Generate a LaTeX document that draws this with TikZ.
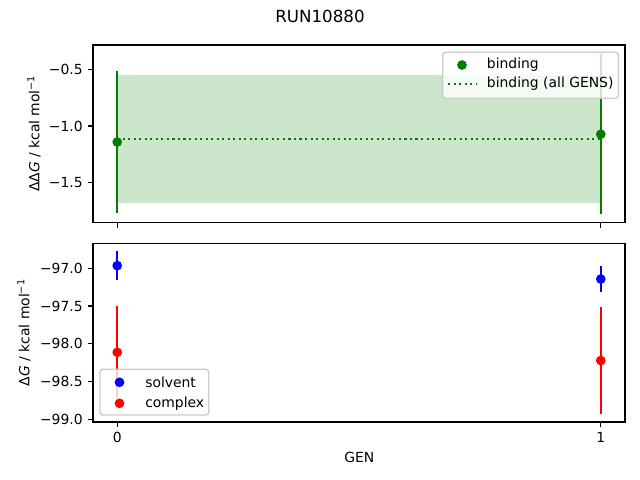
\documentclass[tikz,border=0pt]{standalone}
\usepackage{fontspec}
\setmainfont{DejaVu Sans}
\usetikzlibrary{positioning}
\definecolor{mplgreen}{rgb}{0,0.502,0}
\definecolor{legedge}{gray}{0.8}
\tikzset{axbox/.style={draw, line width=0.8bp}}
\tikzset{tickmark/.style={draw, line width=0.8bp}}
\tikzset{ticklab/.style={inner sep=0pt, font=\fontsize{10bp}{12bp}\selectfont}}
\tikzset{ebar/.style={line width=1.5bp}}
\tikzset{dot/.style={circle, fill=#1, inner sep=0pt, minimum size=7bp}}
\tikzset{legbox/.style={draw=legedge, line width=1bp, fill=white, fill opacity=0.8, rounded corners=2bp}}
\tikzset{legtext/.style={anchor=west, inner sep=0pt, font=\fontsize{10bp}{12bp}\selectfont}}

\begin{document}
\begin{tikzpicture}[x=0.01in, y=-0.01in]
		\useasboundingbox (0,0) rectangle (640,480);
		
		\node[font=\fontsize{12bp}{14bp}\selectfont, inner sep=0pt] (title) at (320,16.5) {RUN10880};
		
		% upper axes: binding
		\begin{scope}[shift={(117.2,13.6)}, xscale=483.6, yscale=-112.4]
			\fill[mplgreen, opacity=0.2] (0,-0.545) rectangle (1,-1.687);
			\draw[mplgreen, line width=1.5bp, dash pattern=on 1.5bp off 2.475bp] (0,-1.116) -- (1,-1.116);
			\foreach \g/\m/\e in {0/-1.143/0.630, 1/-1.073/0.711}{
				\draw[ebar, mplgreen] (\g,\m-\e) -- (\g,\m+\e);
				\node[dot=mplgreen] (b\g) at (\g,\m) {};
			}
		\end{scope}
		\path[axbox] (93,45) rectangle (625,222.7);
		\foreach \v/\l in {-0.5/0.5, -1.0/1.0, -1.5/1.5}{
			\draw[tickmark] (93,{13.6-112.4*\v}) -- (88.1,{13.6-112.4*\v})
				node[ticklab, anchor=east, xshift=-3.5bp] {−\l};
		}
		\foreach \x in {117.2, 600.8}
			\draw[tickmark] (\x,222.7) -- (\x,227.6);
		\node[rotate=90, inner sep=0pt, font=\fontsize{10bp}{12bp}\selectfont] (ylabA) at (34,133.5)
			{ΔΔ{\itshape G} / kcal mol\textsuperscript{−1}};
		
		\path[legbox] (442.7,52.3) rectangle (618.3,98.3);
		\node[dot=mplgreen] (lb) at (462,65) {};
		\node[legtext] (lbt) at (486.7,65) {binding};
		\draw[mplgreen, line width=1.5bp, dash pattern=on 1.5bp off 2.475bp] (448.3,83.7) -- (476,83.7);
		\node[legtext] (lat) at (486.7,83.7) {binding (all GENS)};
		
		% lower axes: solvent and complex
		\begin{scope}[shift={(117.2,-7055.2)}, xscale=483.6, yscale=-75.5]
			\foreach \g/\m/\e in {0/-96.965/0.19, 1/-97.142/0.17}{
				\draw[ebar, blue] (\g,\m-\e) -- (\g,\m+\e);
				\node[dot=blue] (s\g) at (\g,\m) {};
			}
			\foreach \g/\m/\e in {0/-98.113/0.61, 1/-98.222/0.707}{
				\draw[ebar, red] (\g,\m-\e) -- (\g,\m+\e);
				\node[dot=red] (c\g) at (\g,\m) {};
			}
		\end{scope}
		\path[axbox] (93,243.3) rectangle (625,422);
		\foreach \v/\l in {-97.0/97.0, -97.5/97.5, -98.0/98.0, -98.5/98.5, -99.0/99.0}{
			\draw[tickmark] (93,{-7055.2-75.5*\v}) -- (88.1,{-7055.2-75.5*\v})
				node[ticklab, anchor=east, xshift=-3.5bp] {−\l};
		}
		\foreach \x/\l in {117.2/0, 600.8/1}
			\draw[tickmark] (\x,422) -- (\x,426.9) node[ticklab, anchor=north, yshift=-3.5bp] {\l};
		\node[rotate=90, inner sep=0pt, font=\fontsize{10bp}{12bp}\selectfont] (ylabB) at (24,332.6)
			{Δ{\itshape G} / kcal mol\textsuperscript{−1}};
		\node[inner sep=0pt, font=\fontsize{10bp}{12bp}\selectfont] (xlab) at (359.3,457.3) {GEN};
		
		\path[legbox] (100,369.3) rectangle (208.7,415);
		\node[dot=blue] (ls) at (119.5,382.3) {};
		\node[legtext] (lst) at (145,382.3) {solvent};
		\node[dot=red] (lc) at (119.5,403.3) {};
		\node[legtext] (lct) at (145,403.3) {complex};
		
\end{tikzpicture}
\end{document}
